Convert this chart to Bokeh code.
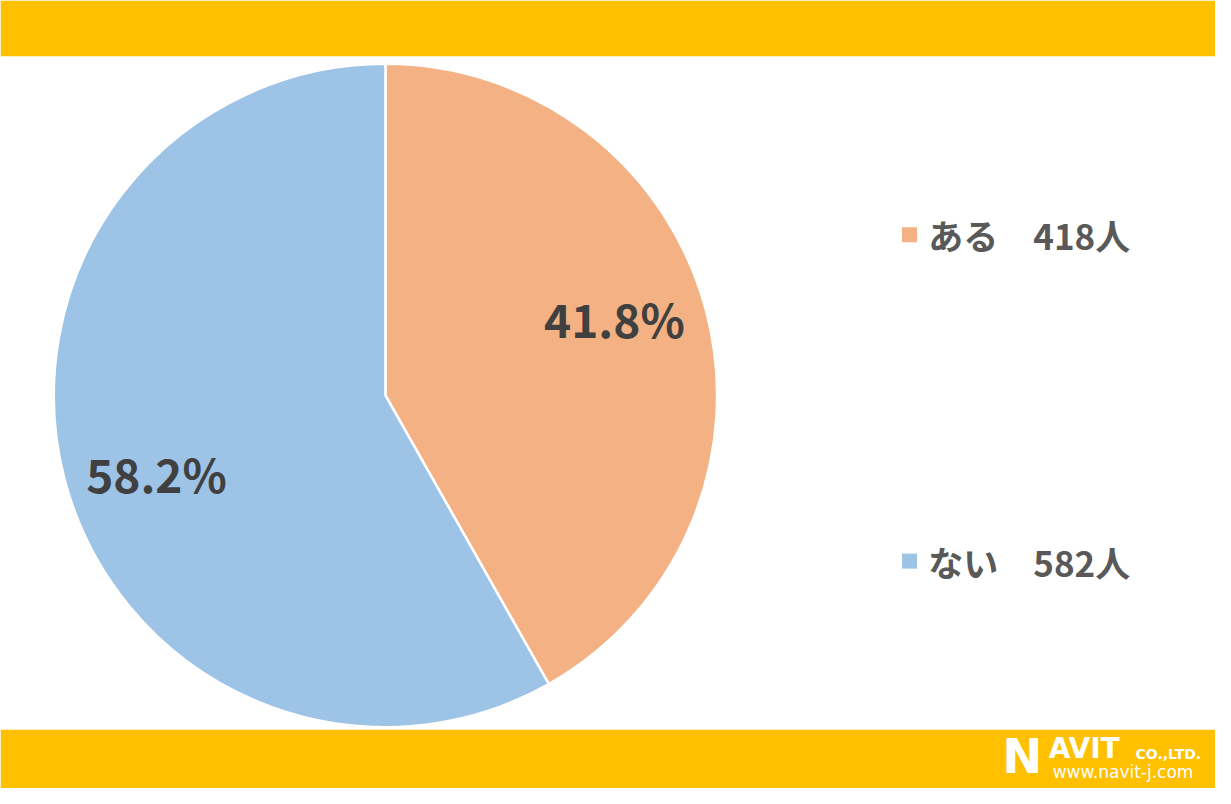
import math
from bokeh.plotting import figure
from bokeh.models import Range1d
from bokeh.core.properties import value
from bokeh.embed import file_html
from bokeh.resources import INLINE

categories = ["ある", "ない"]
counts = [418, 582]
colors = ["#F4B183", "#9DC3E6"]

W, H = 1215, 788
REF_W, REF_H = 1231, 804
p = figure(width=W, height=H, output_backend="svg", toolbar_location=None,
           x_range=Range1d(0, REF_W), y_range=Range1d(0, REF_H),
           min_border=0)
p.axis.visible = False
p.grid.visible = False
p.outline_line_color = None
p.background_fill_color = "white"
p.border_fill_color = "white"

def Y(y):
    return REF_H - y

# banners
p.quad(left=0, right=REF_W, top=Y(0), bottom=Y(57), fill_color="#FFC000", line_color=None)
p.quad(left=0, right=REF_W, top=Y(744), bottom=Y(804), fill_color="#FFC000", line_color=None)

# pie
cx, cy, R = 390, Y(403), 336
total = sum(counts)
start = math.pi / 2
font = value("Noto Sans CJK JP")
for cat, c, col in zip(categories, counts, colors):
    frac = c / total
    end = start - 2 * math.pi * frac
    p.wedge(x=cx, y=cy, radius=R, start_angle=end, end_angle=start,
            fill_color=col, line_color="white", line_width=2.5)
    mid = (start + end) / 2 + math.radians(4)
    lr = 245
    p.text(x=cx + lr * math.cos(mid), y=cy + lr * math.sin(mid),
           text=[f"{frac * 100:.1f}%"], text_font=font, text_font_style="bold",
           text_font_size="46px", text_color="#404040",
           text_align="center", text_baseline="middle")
    start = end

# legend
leg_y = [Y(239), Y(572)]
for cat, c, col, ly in zip(categories, counts, colors, leg_y):
    p.scatter(x=[921], y=[ly], marker="square", size=15, fill_color=col, line_color=None)
    p.text(x=[940], y=[ly], text=[f"{cat}　{c}人"], text_font=font, text_font_style="bold",
           text_font_size="35px", text_color="#595959", text_baseline="middle")

# logo
p.text(x=[1015], y=[Y(771)], text=["N"], text_font=value("DejaVu Sans"), text_font_style="bold",
       text_font_size="48px", text_color="white", text_baseline="middle")
p.text(x=[1062], y=[Y(763)], text=["AVIT"], text_font=value("DejaVu Sans"), text_font_style="bold",
       text_font_size="28px", text_color="white", text_baseline="middle")
p.text(x=[1150], y=[Y(769)], text=["CO.,LTD."], text_font=value("DejaVu Sans"), text_font_style="bold",
       text_font_size="14px", text_color="white", text_baseline="middle")
p.text(x=[1066], y=[Y(787)], text=["www.navit-j.com"], text_font=value("DejaVu Sans"),
       text_font_size="17px", text_color="white", text_baseline="middle")

open("out.html", "w").write(file_html(p, INLINE))
